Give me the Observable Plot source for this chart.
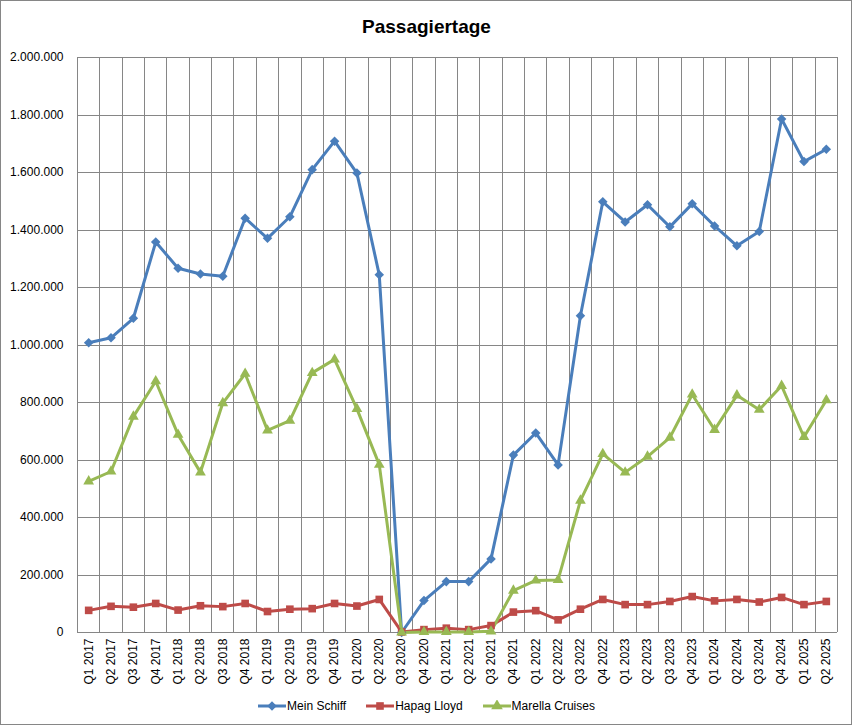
<!DOCTYPE html>
<html>
<head>
<meta charset="utf-8">
<script src="https://cdn.jsdelivr.net/npm/d3@7"></script>
<script src="https://cdn.jsdelivr.net/npm/@observablehq/plot@0.6"></script>
<style>
  html, body { margin: 0; padding: 0; background: #fff; }
  #wrap { position: relative; width: 853px; height: 728px; font-family: "Liberation Sans", Arial, sans-serif; }
  #frame { position: absolute; left: 0; top: 0; width: 852px; height: 725px; box-sizing: border-box; border: 1px solid #868686; pointer-events: none; }
  #title { position: absolute; left: 0; top: 17px; width: 853px; text-align: center; font-size: 19px; line-height: 19px; font-weight: bold; color: #000; }
  #chart { position: absolute; left: 0; top: 0; }
  #legend { position: absolute; left: 0; top: 699px; width: 853px; display: flex; justify-content: center; align-items: center; gap: 20px; font-size: 12px; color: #000; }
  .item { display: flex; align-items: center; }
  .item span { margin-left: 1px; }
</style>
</head>
<body>
<div id="wrap">
  <div id="chart"></div>
  <div id="title">Passagiertage</div>
  <div id="legend"></div>
  <div id="frame"></div>
</div>
<script>
const quarters = ["Q1 2017","Q2 2017","Q3 2017","Q4 2017","Q1 2018","Q2 2018","Q3 2018","Q4 2018",
  "Q1 2019","Q2 2019","Q3 2019","Q4 2019","Q1 2020","Q2 2020","Q3 2020","Q4 2020",
  "Q1 2021","Q2 2021","Q3 2021","Q4 2021","Q1 2022","Q2 2022","Q3 2022","Q4 2022",
  "Q1 2023","Q2 2023","Q3 2023","Q4 2023","Q1 2024","Q2 2024","Q3 2024","Q4 2024",
  "Q1 2025","Q2 2025"];

const meinSchiff = [1008000,1025000,1093000,1358000,1267000,1247000,1239000,1441000,
  1371000,1446000,1610000,1709000,1598000,1244000,0,111000,
  177000,177000,256000,617000,694000,583000,1102000,1498000,
  1428000,1488000,1411000,1491000,1414000,1345000,1395000,1786000,
  1638000,1681000];

const hapagLloyd = [77000,91000,88000,101000,78000,93000,90000,101000,
  73000,81000,83000,101000,92000,115000,2000,10000,
  15000,10000,24000,71000,76000,44000,81000,115000,
  97000,97000,108000,125000,110000,115000,106000,122000,
  97000,108000];

const marella = [526000,560000,751000,874000,688000,557000,798000,900000,
  703000,737000,903000,950000,778000,584000,0,2000,
  2000,2000,4000,146000,181000,183000,459000,621000,
  557000,612000,678000,828000,705000,825000,775000,858000,
  680000,808000];

const seriesNames = ["Mein Schiff","Hapag Lloyd","Marella Cruises"];
const seriesColors = ["#4A7EBB","#BE4B48","#98B954"];
const seriesSymbols = ["diamond2","square","triangle"];
const yTicks = [0,200000,400000,600000,800000,1000000,1200000,1400000,1600000,1800000,2000000];

const seriesValues = [meinSchiff, hapagLloyd, marella];
const rows = [];
seriesNames.forEach((s, si) => {
  quarters.forEach((q, qi) => rows.push({series: s, quarter: q, value: seriesValues[si][qi]}));
});

const de = d3.formatLocale({decimal: ",", thousands: ".", grouping: [3], currency: ["", " €"]});
const fmt = de.format(",d");

const W = 853, H = 728, mL = 77, mR = 16, mT = 57, mB = 96;
const step = (W - mL - mR) / quarters.length;
const gridColor = "#868686";

const chart = Plot.plot({
  width: W,
  height: H,
  marginTop: mT,
  marginLeft: mL,
  marginRight: mR,
  marginBottom: mB,
  style: {fontFamily: "'Liberation Sans', Arial, sans-serif", fontSize: "12px", color: "#000", background: "transparent", overflow: "visible"},
  x: {type: "band", domain: quarters, padding: 0, round: false, tickSize: 0, tickPadding: 6, tickRotate: -90, label: null},
  y: {domain: [0, 2000000], ticks: yTicks, tickFormat: fmt, tickSize: 0, tickPadding: 14, label: null},
  color: {domain: seriesNames, range: seriesColors},
  symbol: {domain: seriesNames, range: seriesSymbols},
  marks: [
    Plot.ruleX(quarters, {x: d => d, dx: -step / 2, stroke: gridColor, strokeOpacity: 1, shapeRendering: "crispEdges"}),
    Plot.ruleX(quarters.slice(-1), {x: d => d, dx: step / 2, stroke: gridColor, strokeOpacity: 1, shapeRendering: "crispEdges"}),
    Plot.ruleY(yTicks, {stroke: gridColor, strokeWidth: 1, shapeRendering: "crispEdges"}),
    Plot.line(rows, {x: "quarter", y: "value", z: "series", stroke: "series", strokeWidth: 3, strokeLinejoin: "round"}),
    Plot.dot(rows.filter(d => d.series !== "Marella Cruises"), {x: "quarter", y: "value", symbol: "series", fill: "series", r: 4.3}),
    Plot.dot(rows.filter(d => d.series === "Marella Cruises"), {x: "quarter", y: "value", symbol: "series", fill: "series", r: 4})
  ]
});
document.getElementById("chart").appendChild(chart);

// legend
const legend = document.getElementById("legend");
seriesNames.forEach((s, i) => {
  const item = document.createElement("div");
  item.className = "item";
  const svg = d3.create("svg").attr("width", 28).attr("height", 12);
  svg.append("line").attr("x1", 0).attr("x2", 28).attr("y1", 6).attr("y2", 6)
    .attr("stroke", seriesColors[i]).attr("stroke-width", 3);
  const symMap = {diamond2: d3.symbolDiamond2, square: d3.symbolSquare, triangle: d3.symbolTriangle};
  svg.append("path").attr("transform", "translate(14,6)")
    .attr("d", d3.symbol(symMap[seriesSymbols[i]], Math.PI * 4.3 * 4.3)())
    .attr("fill", seriesColors[i]);
  item.appendChild(svg.node());
  const sp = document.createElement("span");
  sp.textContent = s;
  item.appendChild(sp);
  legend.appendChild(item);
});
</script>
</body>
</html>
